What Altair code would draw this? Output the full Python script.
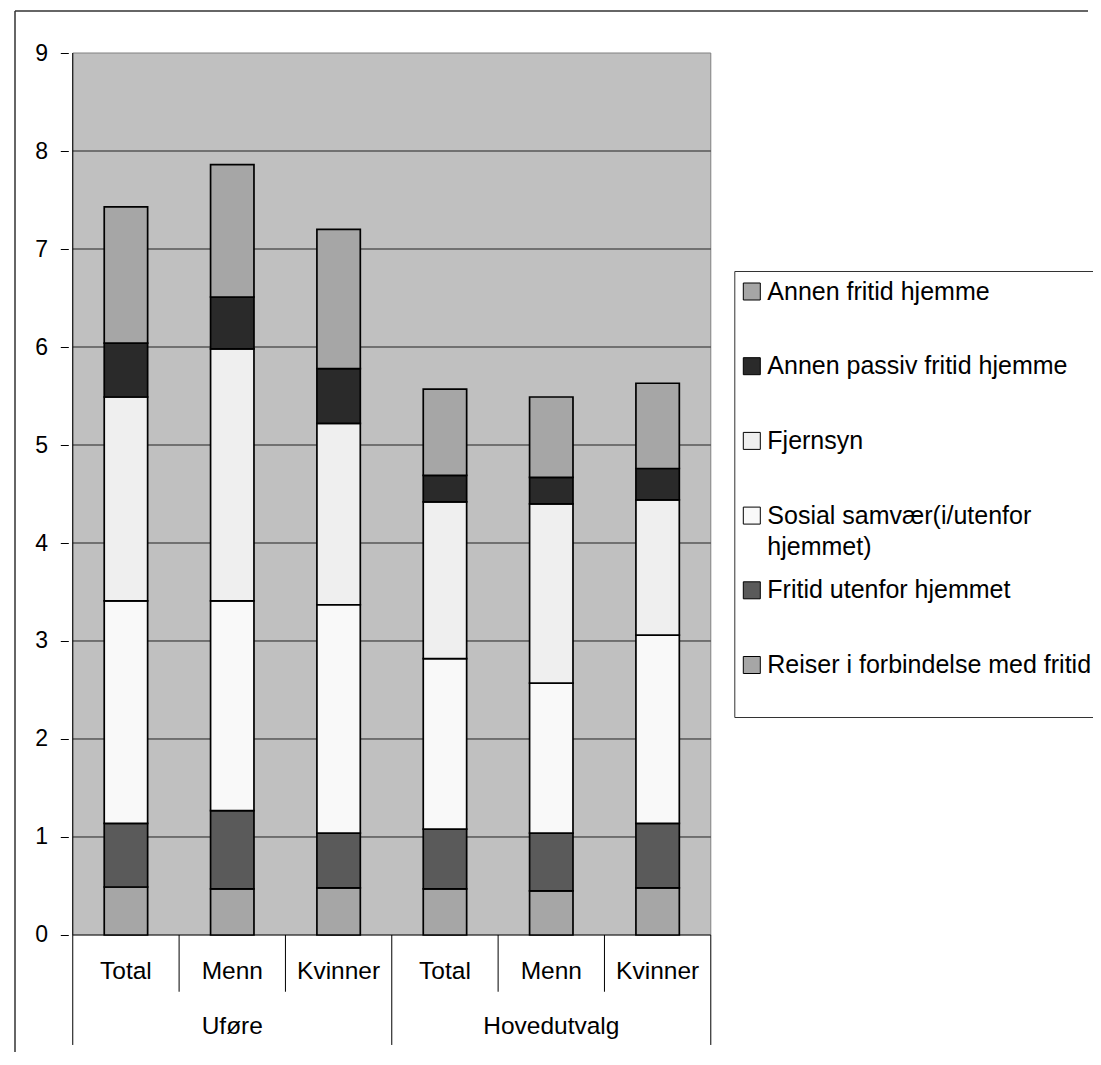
import altair as alt
import pandas as pd

# ---------------- data ----------------
groups = ["Uføre", "Hovedutvalg"]
subgroups = ["Total", "Menn", "Kvinner", "Total", "Menn", "Kvinner"]
bar_group = [0, 0, 0, 1, 1, 1]

# activities from bottom of stack to top
activities = [
    "Reiser i forbindelse med fritid",
    "Fritid utenfor hjemmet",
    "Sosial samvær(i/utenfor hjemmet)",
    "Fjernsyn",
    "Annen passiv fritid hjemme",
    "Annen fritid hjemme",
]
reiser = [0.49, 0.47, 0.48, 0.47, 0.45, 0.48]
fritid_ute = [0.65, 0.80, 0.56, 0.61, 0.59, 0.66]
sosial = [2.27, 2.14, 2.33, 1.74, 1.53, 1.92]
fjernsyn = [2.08, 2.57, 1.85, 1.60, 1.83, 1.38]
passiv = [0.55, 0.53, 0.56, 0.27, 0.27, 0.32]
annen = [1.39, 1.35, 1.42, 0.88, 0.82, 0.87]
series = [reiser, fritid_ute, sosial, fjernsyn, passiv, annen]

colors = ["#a6a6a6", "#5a5a5a", "#f9f9f9", "#efefef", "#2a2a2a", "#a6a6a6"]
y_ticks = list(range(10))

# ---------------- layout constants ----------------
FONT = "Liberation Sans"
VIEW_W, VIEW_H = 1083, 1041
XMIN, XMAX = -0.5432, 9.5472
YMIN, YMAX = -1.1939, 9.4286
CAT_LABEL_Y = -0.378
GROUP_LABEL_Y = -0.936
CAT_SEP_BOTTOM = -0.579
GROUP_SEP_BOTTOM = -1.122

n = len(subgroups)
rows = []
for i in range(n):
    for k, act in enumerate(activities):
        rows.append({"pos": i + 0.5, "activity": act, "value": series[k][i], "order": k})
bars_df = pd.DataFrame(rows)

bg_df = pd.DataFrame([{"x": 0, "x2": n, "y": 0, "y2": max(y_ticks)}])
grid_df = pd.DataFrame([{"y": t, "x": 0, "x2": n} for t in y_ticks[:-1]])
sep_rows = []
for b in range(n + 1):
    bottom = GROUP_SEP_BOTTOM if b % 3 == 0 else CAT_SEP_BOTTOM
    top = max(y_ticks) if b == 0 else 0
    sep_rows.append({"x": b, "y": bottom, "y2": top})
sep_df = pd.DataFrame(sep_rows)
cat_df = pd.DataFrame([{"pos": i + 0.5, "label": subgroups[i], "y": CAT_LABEL_Y} for i in range(n)])
grp_df = pd.DataFrame([
    {"pos": sum(i + 0.5 for i in range(n) if bar_group[i] == g) / bar_group.count(g),
     "label": groups[g], "y": GROUP_LABEL_Y}
    for g in range(len(groups))
])
# outer chart frame (top and left edges; right/bottom fall outside the picture)
frame_df = pd.DataFrame([
    {"x": XMIN, "x2": XMAX, "y": YMAX, "y2": YMAX},
    {"x": XMIN, "x2": XMIN, "y": YMIN, "y2": YMAX},
])

xs = alt.Scale(domain=[XMIN, XMAX], nice=False, zero=False)
ys = alt.Scale(domain=[YMIN, YMAX], nice=False, zero=False)
y_axis = alt.Axis(values=y_ticks, offset=-58.3, tickSize=8, tickColor="black", tickWidth=1,
                  domain=False, grid=False, labelFontSize=23, labelFont=FONT, labelColor="black",
                  labelPadding=12.8, labelFlush=False, title=None)

frame = alt.Chart(frame_df).mark_rule(color="#333333", strokeWidth=1.5).encode(
    x=alt.X("x:Q", scale=xs, axis=None), x2="x2:Q",
    y=alt.Y("y:Q", scale=ys, axis=y_axis), y2="y2:Q")

bg = alt.Chart(bg_df).mark_rect(fill="#c0c0c0", stroke="#808080", strokeWidth=1).encode(
    x=alt.X("x:Q", scale=xs, axis=None), x2="x2:Q",
    y=alt.Y("y:Q", scale=ys, axis=y_axis), y2="y2:Q")

grid = alt.Chart(grid_df).mark_rule(color="#222222", strokeWidth=1).encode(
    x=alt.X("x:Q", scale=xs, axis=None), x2="x2:Q",
    y=alt.Y("y:Q", scale=ys, axis=y_axis))

seps = alt.Chart(sep_df).mark_rule(color="black", strokeWidth=1).encode(
    x=alt.X("x:Q", scale=xs, axis=None),
    y=alt.Y("y:Q", scale=ys, axis=y_axis), y2="y2:Q")

legend = alt.Legend(
    title=" ", titleOrient="bottom", titleFontSize=20, titlePadding=11,
    orient="none", legendX=724.3, legendY=260, padding=8,
    rowPadding=16.7, gridAlign="all", symbolType="square", symbolSize=289,
    symbolStrokeColor="black", symbolStrokeWidth=1, symbolOffset=-3, labelOffset=3,
    labelFontSize=25, labelFont=FONT, labelColor="black",
    labelLimit=600, labelBaseline="middle", strokeColor="#333333",
    labelExpr="datum.label == 'Sosial samvær(i/utenfor hjemmet)' ? ['Sosial samvær(i/utenfor', 'hjemmet)'] : datum.label",
)

bars = alt.Chart(bars_df).mark_bar(size=43.4, stroke="black", strokeWidth=1.7).encode(
    x=alt.X("pos:Q", scale=xs, axis=None),
    y=alt.Y("value:Q", stack="zero", scale=ys, axis=y_axis),
    color=alt.Color("activity:N",
                    scale=alt.Scale(domain=list(reversed(activities)), range=list(reversed(colors))),
                    legend=legend),
    order=alt.Order("order:Q", sort="ascending"),
)

cat_text = alt.Chart(cat_df).mark_text(font=FONT, fontSize=24.5, color="black",
                                       align="center", baseline="middle").encode(
    x=alt.X("pos:Q", scale=xs, axis=None),
    y=alt.Y("y:Q", scale=ys, axis=y_axis), text="label:N")

grp_text = alt.Chart(grp_df).mark_text(font=FONT, fontSize=24.5, color="black",
                                       align="center", baseline="middle").encode(
    x=alt.X("pos:Q", scale=xs, axis=None),
    y=alt.Y("y:Q", scale=ys, axis=y_axis), text="label:N")

chart = alt.layer(frame, bg, grid, bars, seps, cat_text, grp_text).properties(
    width=VIEW_W, height=VIEW_H,
    autosize=alt.AutoSizeParams(type="none"),
    padding={"left": 2, "top": 3, "right": 0, "bottom": 0},
).configure(
    style={"guide-label": {"lineHeight": 31.7}}
).configure_view(stroke="transparent")

chart.save("out.html", embed_options={"renderer": "svg", "actions": False})
